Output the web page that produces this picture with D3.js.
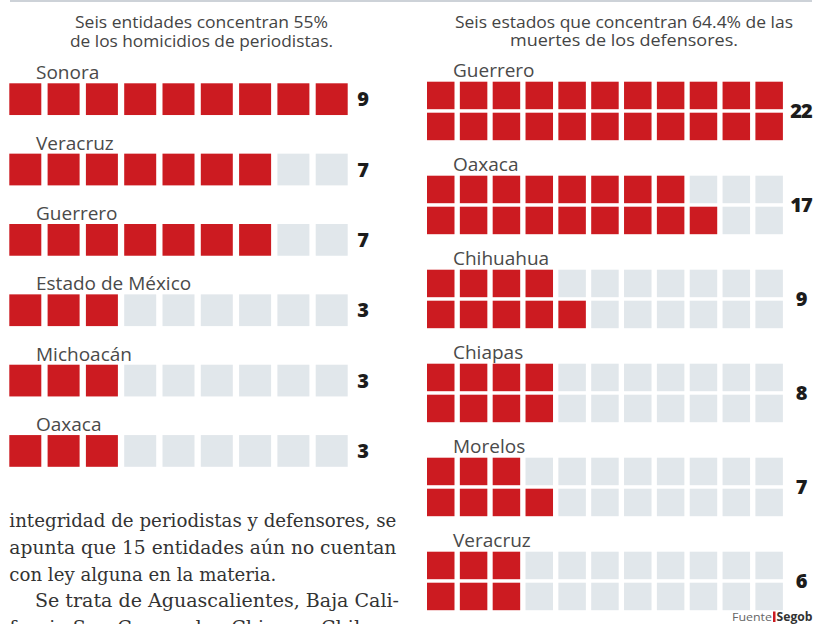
<!DOCTYPE html>
<html>
<head>
<meta charset="utf-8">
<script src="https://cdn.jsdelivr.net/npm/d3@7/dist/d3.min.js"></script>
<style>
  html, body { margin: 0; padding: 0; background: #ffffff; }
  svg { display: block; }
</style>
</head>
<body>
<div id="chart"></div>
<script>
// ---- data ----
const leftTitle = ["Seis entidades concentran 55%", "de los homicidios de periodistas."];
const leftStates = ["Sonora", "Veracruz", "Guerrero", "Estado de México", "Michoacán", "Oaxaca"];
const leftValues = [9, 7, 7, 3, 3, 3];
const leftCells = 9;

const rightTitle = ["Seis estados que concentran 64.4% de las", "muertes de los defensores."];
const rightStates = ["Guerrero", "Oaxaca", "Chihuahua", "Chiapas", "Morelos", "Veracruz"];
const rightValues = [22, 17, 9, 8, 7, 6];
const rightCols = 11;
const rightRows = 2;

const bodyLines = [
  "integridad de periodistas y defensores, se",
  "apunta que 15 entidades aún no cuentan",
  "con ley alguna en la materia.",
  "Se trata de Aguascalientes, Baja Cali-",
  "fornia Sur, Campeche, Chiapas, Chihua-"
];
const sourceLabel = "Fuente";
const sourceName = "Segob";

// ---- style ----
const W = 814, H = 624;
const RED = "#cc1b21", EMPTY = "#e1e7eb";
const LABEL = "#4a4a4a", VALUE = "#1c1c1c";

const svg = d3.select("#chart").append("svg").attr("width", W).attr("height", H);

// top rule
svg.append("rect").attr("x", 10).attr("y", 0).attr("width", 802).attr("height", 2).attr("fill", "#cdd2d8");

// ---- left panel ----
const lt = svg.append("g");
const leftTitleLayout = [{ cx: 201.5, y: 28, w: 253 }, { cx: 201.5, y: 46.5, w: 263 }];
leftTitle.forEach((t, i) => {
  lt.append("text").attr("x", leftTitleLayout[i].cx).attr("y", leftTitleLayout[i].y)
    .attr("text-anchor", "middle").attr("font-family", "Open Sans").attr("font-size", 16.5)
    .attr("fill", "#444").attr("textLength", leftTitleLayout[i].w).attr("lengthAdjust", "spacingAndGlyphs")
    .text(t);
});

const xL = d3.scaleBand().domain(d3.range(leftCells)).range([9.3, 347.7]).paddingInner(0.1645);
const yL = d3.scaleBand().domain(leftStates).range([83.3, 466.8]).paddingInner(0.549);

const leftData = leftStates.map((s, i) => ({ state: s, value: leftValues[i] }));
const lg = lt.selectAll("g.row").data(leftData).join("g").attr("class", "row");
lg.append("text")
  .attr("x", 36).attr("y", d => yL(d.state) - 4)
  .attr("font-family", "Open Sans").attr("font-size", 19).attr("fill", LABEL)
  .text(d => d.state);
lg.selectAll("rect").data(d => d3.range(leftCells).map(c => ({ c, on: c < d.value, state: d.state })))
  .join("rect")
  .attr("x", d => xL(d.c)).attr("y", d => yL(d.state))
  .attr("width", xL.bandwidth()).attr("height", yL.bandwidth())
  .attr("fill", d => d.on ? RED : EMPTY);
lg.append("text")
  .attr("x", 363).attr("y", d => yL(d.state) + yL.bandwidth() / 2)
  .attr("dy", "0.36em").attr("text-anchor", "middle")
  .attr("font-family", "Open Sans").attr("font-weight", 800).attr("font-size", 20).attr("fill", VALUE)
  .text(d => d.value);

// ---- right panel ----
const rt = svg.append("g");
const rightTitleLayout = [{ cx: 624, y: 28, w: 338 }, { cx: 624, y: 45.5, w: 228 }];
rightTitle.forEach((t, i) => {
  rt.append("text").attr("x", rightTitleLayout[i].cx).attr("y", rightTitleLayout[i].y)
    .attr("text-anchor", "middle").attr("font-family", "Open Sans").attr("font-size", 16.5)
    .attr("fill", "#444").attr("textLength", rightTitleLayout[i].w).attr("lengthAdjust", "spacingAndGlyphs")
    .text(t);
});

const xR = d3.scaleBand().domain(d3.range(rightCols)).range([427, 782.9]).paddingInner(0.1626);
const yR = d3.scaleBand().domain(rightStates).range([81.7, 610.2]).paddingInner(0.3777);
const yRow = d3.scaleBand().domain(d3.range(rightRows)).range([0, yR.bandwidth()]).paddingInner(0.1129);

const rightData = rightStates.map((s, i) => ({ state: s, value: rightValues[i] }));
const rg = rt.selectAll("g.grp").data(rightData).join("g").attr("class", "grp")
  .attr("transform", d => `translate(0,${yR(d.state)})`);
rg.append("text")
  .attr("x", 453).attr("y", -5)
  .attr("font-family", "Open Sans").attr("font-size", 19).attr("fill", LABEL)
  .text(d => d.state);
// cells filled column by column, bottom row first
rg.selectAll("rect").data(d => d3.range(rightCols * rightRows).map(i => ({
    col: Math.floor(i / rightRows), row: rightRows - 1 - (i % rightRows), on: i < d.value })))
  .join("rect")
  .attr("x", d => xR(d.col)).attr("y", d => yRow(d.row))
  .attr("width", xR.bandwidth()).attr("height", yRow.bandwidth())
  .attr("fill", d => d.on ? RED : EMPTY);
rg.append("text")
  .attr("x", 801).attr("y", yR.bandwidth() / 2)
  .attr("dy", "0.36em").attr("text-anchor", "middle")
  .attr("font-family", "Open Sans").attr("font-weight", 800).attr("font-size", 20)
  .attr("letter-spacing", -1).attr("fill", VALUE)
  .text(d => d.value);

// ---- body text ----
const bodyLayout = [
  { x: 9.3, y: 527.3, w: 387 },
  { x: 9.3, y: 554, w: 387 },
  { x: 9.3, y: 580.5, w: 267 },
  { x: 35, y: 607, w: 364 },
  { x: 9.3, y: 633.5, w: 387 }
];
bodyLines.forEach((t, i) => {
  svg.append("text").attr("x", bodyLayout[i].x).attr("y", bodyLayout[i].y)
    .attr("font-family", "DejaVu Serif").attr("font-size", 19).attr("fill", "#333")
    .attr("textLength", bodyLayout[i].w).attr("lengthAdjust", "spacingAndGlyphs")
    .text(t);
});

// ---- source ----
svg.append("text").attr("x", 732).attr("y", 620.5).attr("font-family", "Open Sans")
  .attr("font-size", 11.5).attr("fill", "#666").attr("textLength", 40).attr("lengthAdjust", "spacingAndGlyphs")
  .text(sourceLabel);
svg.append("rect").attr("x", 773).attr("y", 611.5).attr("width", 2.5).attr("height", 10.5).attr("fill", RED);
svg.append("text").attr("x", 776.5).attr("y", 620.5).attr("font-family", "Open Sans").attr("font-weight", 700)
  .attr("font-size", 11.5).attr("fill", "#333").attr("textLength", 36).attr("lengthAdjust", "spacingAndGlyphs")
  .text(sourceName);
</script>
</body>
</html>
